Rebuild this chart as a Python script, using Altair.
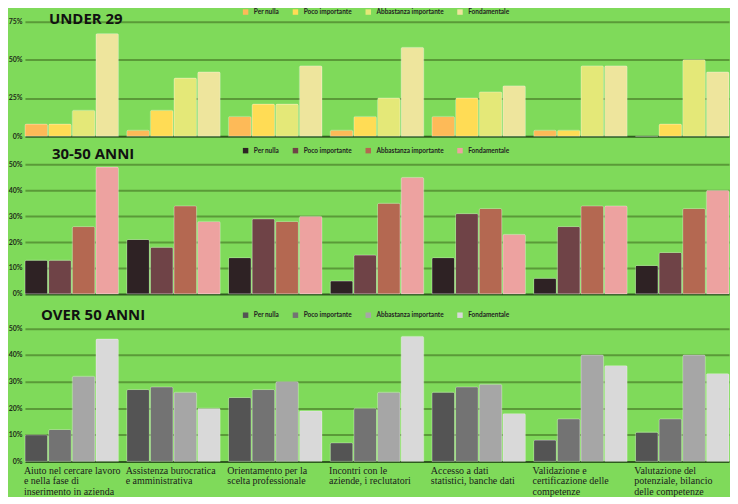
import altair as alt
import pandas as pd

categories = [
    "Aiuto nel cercare lavoro\ne nella fase di\ninserimento in azienda",
    "Assistenza burocratica\ne amministrativa",
    "Orientamento per la\nscelta professionale",
    "Incontri con le\naziende, i reclutatori",
    "Accesso a dati\nstatistici, banche dati",
    "Validazione e\ncertificazione delle\ncompetenze",
    "Valutazione del\npotenziale, bilancio\ndelle competenze",
]
levels = ["Per nulla", "Poco importante", "Abbastanza importante", "Fondamentale"]

# UNDER 29 (percent)
u29_per_nulla = [8, 4, 13, 4, 13, 4, 0]
u29_poco = [8, 17, 21, 13, 25, 4, 8]
u29_abbastanza = [17, 38, 21, 25, 29, 46, 50]
u29_fondamentale = [67, 42, 46, 58, 33, 46, 42]

# 30-50 ANNI (percent)
m_per_nulla = [13, 21, 14, 5, 14, 6, 11]
m_poco = [13, 18, 29, 15, 31, 26, 16]
m_abbastanza = [26, 34, 28, 35, 33, 34, 33]
m_fondamentale = [49, 28, 30, 45, 23, 34, 40]

# OVER 50 ANNI (percent)
o50_per_nulla = [10, 27, 24, 7, 26, 8, 11]
o50_poco = [12, 28, 27, 20, 28, 16, 16]
o50_abbastanza = [32, 26, 30, 26, 29, 40, 40]
o50_fondamentale = [46, 20, 19, 47, 18, 36, 33]

colors_u29 = ["#FDBA58", "#FFDC55", "#E4E878", "#EEE59D"]
colors_mid = ["#2E2224", "#6F4347", "#B46851", "#EDA2A0"]
colors_o50 = ["#545454", "#737373", "#A6A6A6", "#D9D9D9"]

BG = "#7FDA5A"
GRID = "#5A9A38"
BASE = "#2F5A1F"
W = 706


def frame(series):
    rows = []
    for lvl, vals in zip(levels, series):
        for cat, v in zip(categories, vals):
            rows.append({"category": cat, "level": lvl, "value": v / 100})
    return pd.DataFrame(rows)


def panel(series, colors, dmax, ticks, height, title, tx, ty, legend_y, show_x):
    df = frame(series)
    if show_x:
        xaxis = alt.Axis(
            title=None, ticks=False, domain=False, labelAngle=0,
            labelExpr="split(datum.label, '\\n')", labelAlign="left",
            labelBaseline="top", labelOffset=-48, labelPadding=4,
            labelFont="Liberation Serif", labelFontSize=10, labelLineHeight=10.5,
            labelColor="#1b1b1b", labelOverlap=False, labelBound=False, labelLimit=200,
        )
    else:
        xaxis = alt.Axis(title=None, labels=False, ticks=False, domain=False)

    bars = alt.Chart(df).mark_bar(
        cornerRadiusTopLeft=1.5, cornerRadiusTopRight=1.5,
        stroke="#ffffff", strokeOpacity=0.25, strokeWidth=1,
    ).encode(
        x=alt.X("category:N", sort=categories,
                scale=alt.Scale(paddingInner=0.08, paddingOuter=0), axis=xaxis),
        xOffset=alt.XOffset("level:N", sort=levels,
                            scale=alt.Scale(paddingInner=0.04, paddingOuter=0)),
        y=alt.Y("value:Q",
                scale=alt.Scale(domain=[0, dmax], nice=False, zero=True),
                axis=alt.Axis(values=ticks, format=".0%", title=None, domain=False,
                              ticks=False, grid=True,
                              gridColor=alt.condition("datum.value === 0",
                                                      alt.value(BASE), alt.value(GRID)),
                              gridWidth=2,
                              labelFont="Lato", labelFontSize=7, labelFontWeight="bold",
                              labelColor="#1e2a18", labelPadding=3)),
        color=alt.Color("level:N", sort=levels,
                        scale=alt.Scale(domain=levels, range=colors),
                        legend=alt.Legend(orient="none", legendX=218, legendY=legend_y,
                                          direction="horizontal", title=None,
                                          symbolType="square", symbolSize=30,
                                          symbolStrokeWidth=0, labelFont="Lato",
                                          labelFontSize=6.5, labelFontWeight="bold",
                                          labelColor="#222222", labelOffset=5,
                                          columnPadding=13)),
    )
    label = alt.Chart(pd.DataFrame({"t": [title]})).mark_text(
        align="left", baseline="alphabetic", font="Open Sans", fontSize=15,
        fontWeight="bold", color="#111111",
    ).encode(text="t:N", x=alt.value(tx), y=alt.value(ty))
    return alt.layer(bars, label).properties(width=W, height=height)


p1 = panel([u29_per_nulla, u29_poco, u29_abbastanza, u29_fondamentale], colors_u29,
           0.832, [0, 0.25, 0.5, 0.75], 128, "UNDER 29", 24, 15, 0, False)
p2 = panel([m_per_nulla, m_poco, m_abbastanza, m_fondamentale], colors_mid,
           0.597, [0, 0.1, 0.2, 0.3, 0.4, 0.5], 155, "30-50 ANNI", 27, 20, 8, False)
p3 = panel([o50_per_nulla, o50_poco, o50_abbastanza, o50_fondamentale], colors_o50,
           0.618, [0, 0.1, 0.2, 0.3, 0.4, 0.5], 165, "OVER 50 ANNI", 16, 23, 15, True)

chart = alt.vconcat(p1, p2, p3, spacing=0).resolve_scale(
    color="independent", y="independent", x="independent"
).properties(background=BG, padding=0).configure_view(stroke=None)

chart.save("out.html", embed_options={"renderer": "svg", "actions": False})
